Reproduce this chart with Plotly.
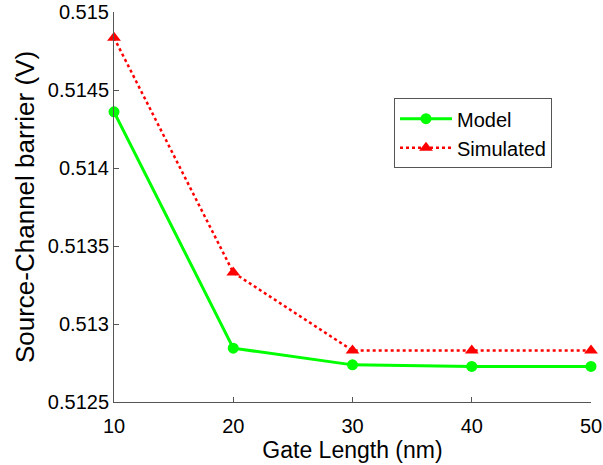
import plotly.graph_objects as go

gate_length = [10, 20, 30, 40, 50]
model = [0.51436, 0.512845, 0.512738, 0.512728, 0.512728]
simulated = [0.514835, 0.51333, 0.51283, 0.51283, 0.51283]
y_ticks = [0.5125, 0.513, 0.5135, 0.514, 0.5145, 0.515]
y_tick_labels = ["0.5125", "0.513", "0.5135", "0.514", "0.5145", "0.515"]
x_ticks = [10, 20, 30, 40, 50]

FONT = "Liberation Sans, Arial, sans-serif"

fig = go.Figure()
fig.add_trace(go.Scatter(
    x=gate_length, y=model, name="Model", mode="lines+markers",
    line=dict(color="#00ff00", width=3),
    marker=dict(symbol="circle", size=11, color="#00ff00"),
    cliponaxis=False,
))
fig.add_trace(go.Scatter(
    x=gate_length, y=simulated, name="Simulated", mode="lines+markers",
    line=dict(color="#ff0000", width=2.5, dash="dot"),
    marker=dict(symbol="triangle-up", size=12, color="#ff0000"),
    cliponaxis=False,
))

axis_common = dict(
    showgrid=False, zeroline=False, showline=True, linecolor="#555555",
    linewidth=1, ticks="inside", ticklen=5, tickcolor="#555555",
    tickfont=dict(family=FONT, size=20, color="black"),
    automargin=False,
)

fig.update_layout(
    width=603, height=465,
    margin=dict(l=114, r=12, t=12, b=63),
    plot_bgcolor="white", paper_bgcolor="white",
    xaxis=dict(range=[10, 50], tickvals=x_ticks, ticklabelstandoff=6,
               title=dict(text="Gate Length (nm)", standoff=2,
                          font=dict(family=FONT, size=23, color="black")),
               **axis_common),
    yaxis=dict(range=[0.5125, 0.515], tickvals=y_ticks, ticktext=y_tick_labels,
               title=dict(text="Source-Channel barrier (V)", standoff=5,
                          font=dict(family=FONT, size=26, color="black")),
               **axis_common),
    legend=dict(x=0.587, y=0.779, xanchor="left", yanchor="top",
                bordercolor="#555555", borderwidth=1, bgcolor="white",
                font=dict(family=FONT, size=20, color="black"),
                tracegroupgap=0, itemwidth=52),
    showlegend=True,
)

fig.write_html("out.html")
